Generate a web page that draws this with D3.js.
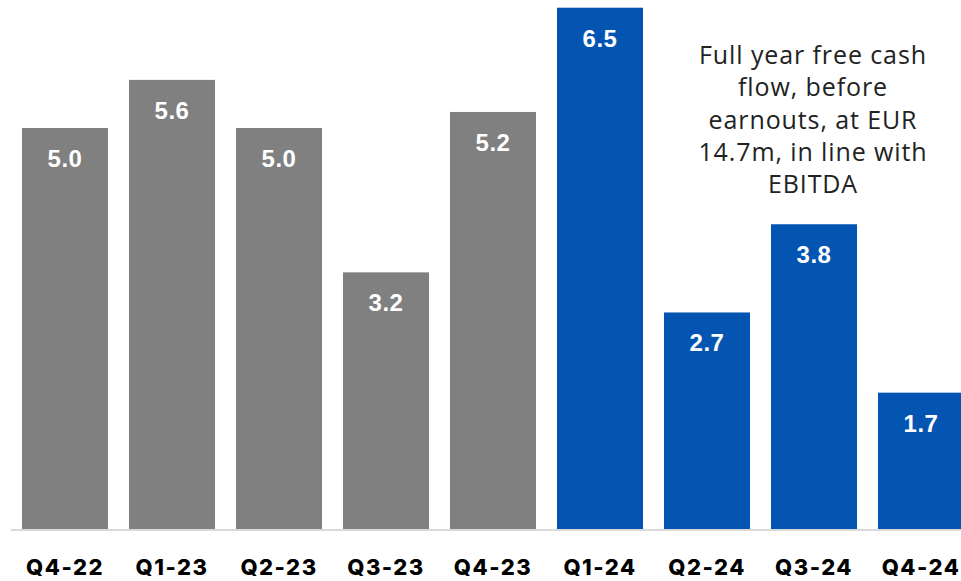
<!DOCTYPE html>
<html>
<head>
<meta charset="utf-8">
<style>
	body { margin: 0; background: #fff; }
	svg { display: block; }
	.value { font-family: "Liberation Sans", Arial, sans-serif; font-weight: bold; font-size: 24px; fill: #fff; letter-spacing: 0.5px; }
	.cat { font-family: Inter, sans-serif; font-weight: 800; font-size: 22px; fill: #000; letter-spacing: 1.5px; }
	.note { font-family: "Open Sans", sans-serif; font-size: 25px; fill: #222; letter-spacing: 0.9px; }
</style>
</head>
<body>
<svg width="961" height="581"></svg>
<script src="https://d3js.org/d3.v7.min.js"></script>
<script>

	var quarters = ["Q4-22", "Q1-23", "Q2-23", "Q3-23", "Q4-23", "Q1-24", "Q2-24", "Q3-24", "Q4-24"];
	var cashFlow = [5.0, 5.6, 5.0, 3.2, 5.2, 6.5, 2.7, 3.8, 1.7];
	var noteLines = ["Full year free cash", "flow, before", "earnouts, at EUR", "14.7m, in line with", "EBITDA"];

	var svg = d3.select("svg"),
		width = +svg.attr("width"),
		height = +svg.attr("height");

	var baseline = 529;

	var x = d3.scaleBand()
		.domain(quarters)
		.range([11.5, 974.5])
		.paddingInner(0.196)
		.paddingOuter(0.098);

	var y = d3.scaleLinear()
		.domain([0, 6.6])
		.range([baseline, baseline - 6.6 * 80.2]);

	// 2024 quarters in blue
	function color(q) { return q.slice(-2) === "24" ? "#0455b2" : "#808080"; }

	var data = quarters.map(function (q, i) { return { q: q, v: cashFlow[i] }; });

	svg.append("g")
		.selectAll("rect")
		.data(data)
		.enter().append("rect")
		.attr("x", function (d) { return x(d.q); })
		.attr("y", function (d) { return y(d.v); })
		.attr("width", x.bandwidth())
		.attr("height", function (d) { return y(0) - y(d.v); })
		.attr("fill", function (d) { return color(d.q); });

	svg.append("line")
		.attr("x1", 11).attr("x2", width)
		.attr("y1", y(0) + 1).attr("y2", y(0) + 1)
		.attr("stroke", "#d9d9d9")
		.attr("stroke-width", 2);

	svg.append("g")
		.selectAll("text")
		.data(data)
		.enter().append("text")
		.attr("class", "value")
		.attr("x", function (d) { return x(d.q) + x.bandwidth() / 2; })
		.attr("y", function (d) { return y(d.v) + 39; })
		.attr("text-anchor", "middle")
		.text(function (d) { return d.v.toFixed(1); });

	var xAxis = svg.append("g")
		.attr("transform", "translate(0," + y(0) + ")")
		.call(d3.axisBottom(x).tickSize(0).tickPadding(46));
	xAxis.select(".domain").remove();
	xAxis.selectAll("text")
		.attr("class", "cat")
		.attr("fill", null)
		.attr("dy", null);
	xAxis.attr("font-size", null).attr("font-family", null);

	svg.append("text")
		.attr("class", "note")
		.attr("text-anchor", "middle")
		.selectAll("tspan")
		.data(noteLines)
		.enter().append("tspan")
		.attr("x", 813)
		.attr("y", function (d, i) { return 64 + i * 32.3; })
		.text(function (d) { return d; });

</script>
</body>
</html>
